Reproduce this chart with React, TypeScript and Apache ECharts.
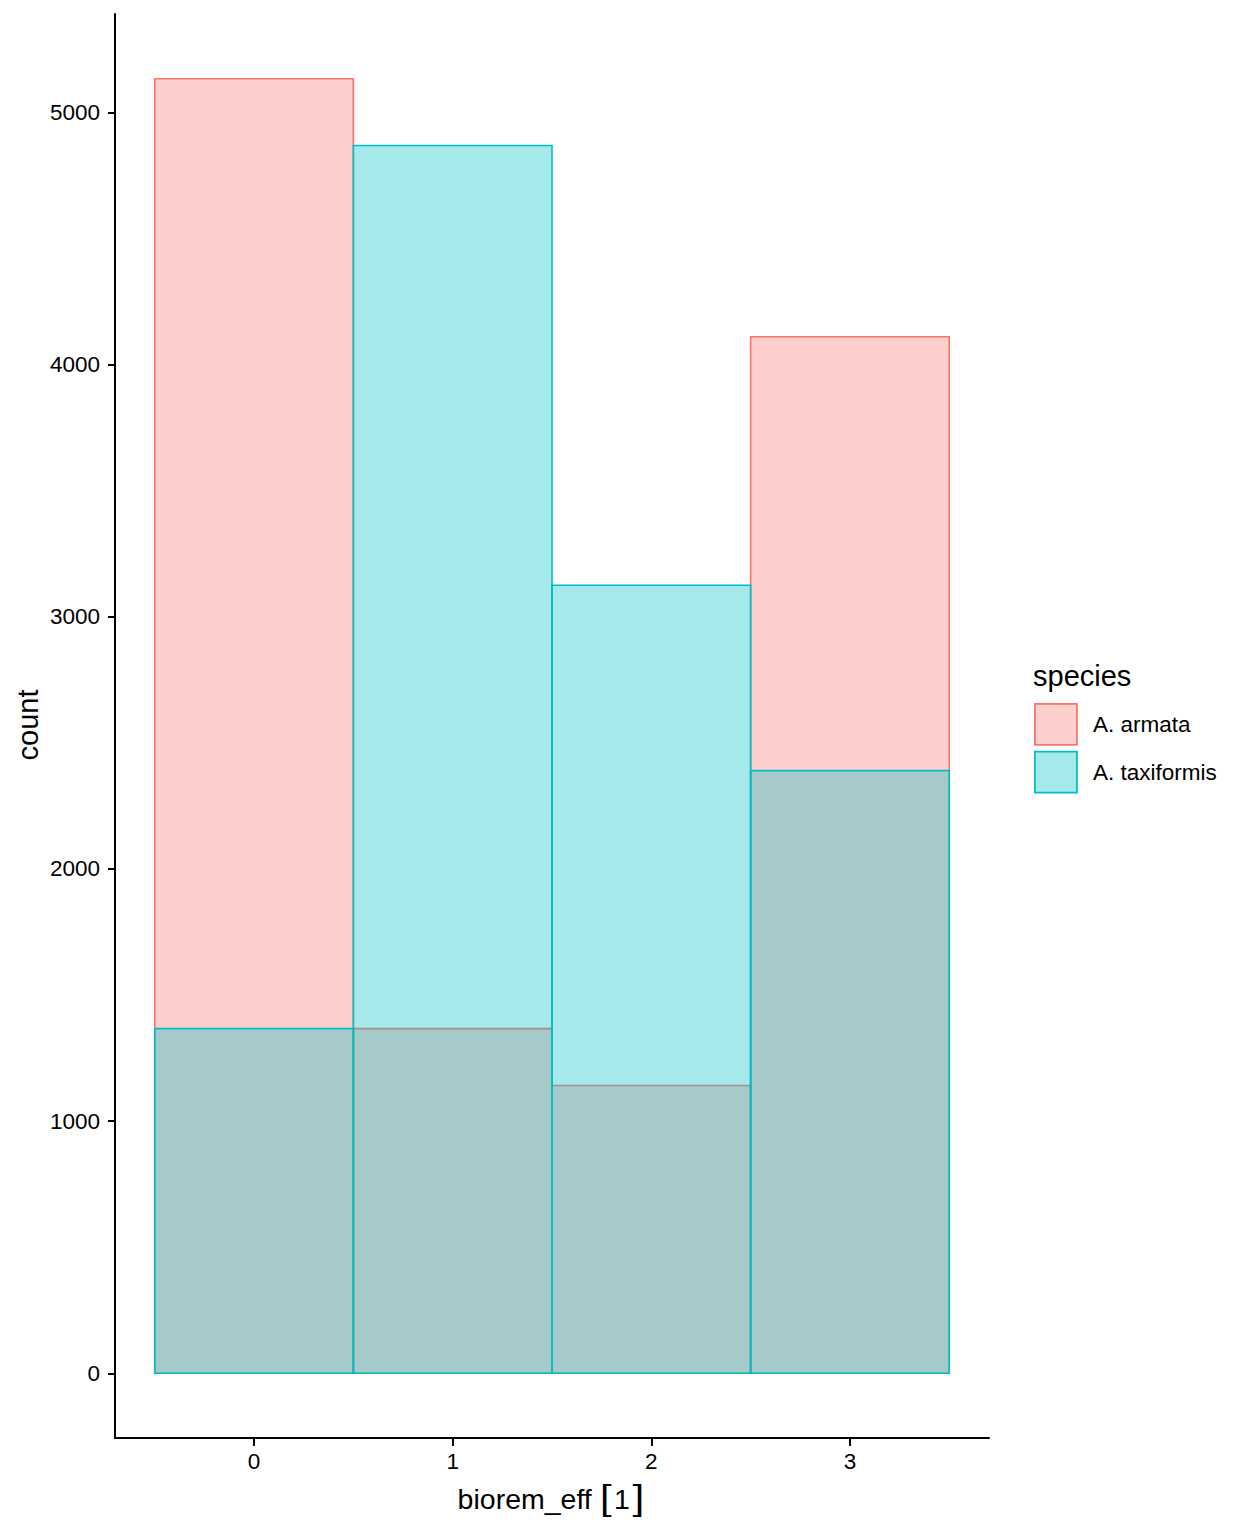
import React, { useEffect, useRef } from "react";
import * as echarts from "echarts";

const bins = [0, 1, 2, 3];
const binWidth = 1;
const armata = [5134, 1367, 1141, 4111];
const taxiformis = [1367, 4869, 3125, 2390];
const yTicks = [0, 1000, 2000, 3000, 4000, 5000];
const xTicks = [0, 1, 2, 3];
const speciesNames = ["A. armata", "A. taxiformis"];

const FONT = "'Liberation Sans', Arial, sans-serif";
const RED = "#F8766D";
const TEAL = "#00BFC4";
const RED_FILL = "rgba(248,118,109,0.35)";
const TEAL_FILL = "rgba(0,191,196,0.35)";

function makeSeries(name: string, values: number[], fill: string, stroke: string) {
  return {
    name,
    type: "custom",
    data: bins.map((b, i) => [b, values[i]]),
    encode: { x: 0, y: 1 },
    itemStyle: { color: fill, borderColor: stroke },
    renderItem: (params: any, api: any) => {
      const x = api.value(0);
      const y = api.value(1);
      const p0 = api.coord([x - binWidth / 2, y]);
      const p1 = api.coord([x + binWidth / 2, 0]);
      return {
        type: "rect",
        shape: { x: p0[0], y: p0[1], width: p1[0] - p0[0], height: p1[1] - p0[1] },
        style: { fill, stroke, lineWidth: 1.6 },
      };
    },
  };
}

export default function App() {
  const ref = useRef<HTMLDivElement>(null);
  useEffect(() => {
    document.body.style.margin = "0";
    const chart = echarts.init(ref.current!, undefined, { renderer: "svg" });
    const maxVal = Math.max(...armata, ...taxiformis);
    const pad = maxVal * 0.05;
    chart.setOption({
      animation: false,
      backgroundColor: "#ffffff",
      textStyle: { fontFamily: FONT },
      grid: { left: 115, right: 259, top: 14, bottom: 98, containLabel: false },
      xAxis: {
        type: "value",
        min: -0.7,
        max: 3.7,
        splitLine: { show: false },
        axisLine: { show: true, onZero: false, lineStyle: { color: "#000", width: 2 } },
        axisTick: { show: true, length: 8, customValues: xTicks, lineStyle: { color: "#000", width: 2 } },
        axisLabel: {
          customValues: xTicks,
          margin: 12,
          fontSize: 22.5,
          color: "#000",
          fontFamily: FONT,
          formatter: (v: number) => String(v),
        },
      },
      yAxis: {
        type: "value",
        min: -pad,
        max: maxVal + pad,
        splitLine: { show: false },
        axisLine: { show: true, onZero: false, lineStyle: { color: "#000", width: 2 } },
        axisTick: { show: true, length: 7, customValues: yTicks, lineStyle: { color: "#000", width: 2 } },
        axisLabel: {
          customValues: yTicks,
          margin: 15,
          fontSize: 22.5,
          color: "#000",
          fontFamily: FONT,
          formatter: (v: number) => String(v),
        },
      },
      legend: {
        orient: "vertical",
        left: 1034,
        top: 703,
        padding: 0,
        itemWidth: 42,
        itemHeight: 41,
        itemGap: 5,
        icon: "rect",
        textStyle: { fontSize: 22.5, color: "#000", fontFamily: FONT, padding: [6, 0, 0, 11] },
        data: [
          { name: speciesNames[0], itemStyle: { color: RED_FILL, borderColor: RED, borderWidth: 1.8 } },
          { name: speciesNames[1], itemStyle: { color: TEAL_FILL, borderColor: TEAL, borderWidth: 1.8 } },
        ],
      },
      graphic: [
        {
          type: "text",
          left: 1033,
          top: 661,
          style: { text: "species", fontSize: 29, fill: "#000", fontFamily: FONT },
        },
        {
          type: "text",
          x: 28,
          y: 725,
          rotation: Math.PI / 2,
          style: { text: "count", fontSize: 29, fill: "#000", fontFamily: FONT, align: "center", verticalAlign: "middle" },
        },
        {
          type: "text",
          x: 551,
          y: 1499,
          style: {
            text: "{a|biorem_eff }{b|[}{a|1}{b|]}",
            align: "center",
            verticalAlign: "middle",
            fill: "#000",
            rich: {
              a: { fontSize: 28.5, fontFamily: FONT, fill: "#000" },
              b: { fontSize: 37, fontFamily: "'DejaVu Serif', 'Liberation Serif', serif", fontWeight: 100, fill: "#000" },
            },
          },
        },
      ],
      series: [
        makeSeries(speciesNames[0], armata, RED_FILL, RED),
        makeSeries(speciesNames[1], taxiformis, TEAL_FILL, TEAL),
      ],
    });
    return () => chart.dispose();
  }, []);
  return <div ref={ref} style={{ width: 1248, height: 1536 }} />;
}
